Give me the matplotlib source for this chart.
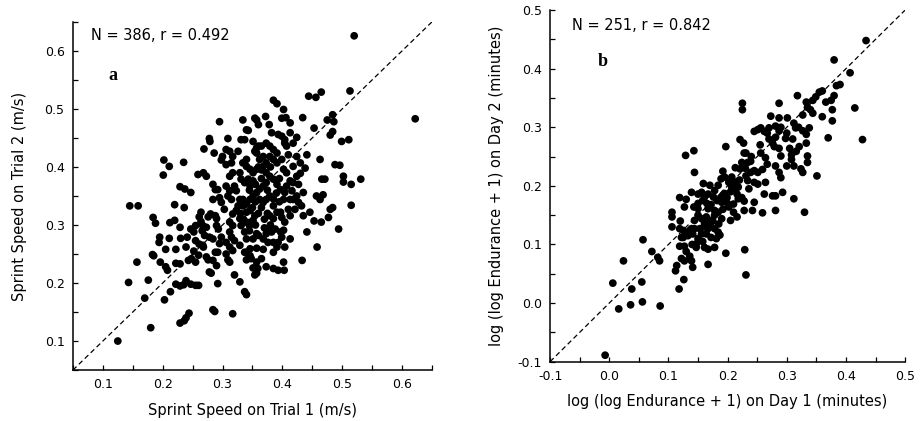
import matplotlib
matplotlib.use("Agg")
import matplotlib.pyplot as plt
from matplotlib.ticker import MultipleLocator

# (trial 1, trial 2) sprint speeds, m/s
sprint_points = [
    (0.520, 0.626), (0.622, 0.483), (0.125, 0.100), (0.180, 0.123), (0.143, 0.201),
    (0.170, 0.174), (0.176, 0.205), (0.145, 0.333), (0.159, 0.333), (0.157, 0.236),
    (0.184, 0.313), (0.188, 0.303), (0.183, 0.249), (0.185, 0.247), (0.195, 0.279),
    (0.194, 0.270), (0.196, 0.236), (0.202, 0.412), (0.201, 0.386), (0.211, 0.401),
    (0.212, 0.304), (0.211, 0.277), (0.205, 0.258), (0.205, 0.228), (0.208, 0.222),
    (0.203, 0.171), (0.213, 0.185), (0.220, 0.335), (0.222, 0.258), (0.222, 0.234),
    (0.229, 0.233), (0.222, 0.198), (0.229, 0.195), (0.235, 0.197), (0.229, 0.366),
    (0.237, 0.362), (0.247, 0.356), (0.235, 0.408), (0.236, 0.330), (0.230, 0.277),
    (0.229, 0.131), (0.236, 0.135), (0.239, 0.140), (0.244, 0.148), (0.239, 0.204),
    (0.247, 0.198), (0.255, 0.196), (0.243, 0.239), (0.248, 0.242), (0.260, 0.196),
    (0.252, 0.255), (0.260, 0.248), (0.255, 0.236), (0.259, 0.387), (0.268, 0.390),
    (0.269, 0.431), (0.261, 0.314), (0.264, 0.306), (0.267, 0.299), (0.266, 0.290),
    (0.270, 0.282), (0.268, 0.262), (0.278, 0.449), (0.279, 0.444), (0.273, 0.384),
    (0.276, 0.314), (0.280, 0.319), (0.278, 0.279), (0.284, 0.276), (0.281, 0.217),
    (0.278, 0.219), (0.284, 0.154), (0.287, 0.151), (0.292, 0.199), (0.290, 0.230),
    (0.288, 0.253), (0.295, 0.478), (0.286, 0.424), (0.284, 0.370), (0.288, 0.361),
    (0.284, 0.344), (0.288, 0.316), (0.290, 0.311), (0.293, 0.293), (0.298, 0.412),
    (0.300, 0.418), (0.309, 0.449), (0.306, 0.430), (0.312, 0.427), (0.306, 0.404),
    (0.315, 0.407), (0.312, 0.384), (0.317, 0.390), (0.306, 0.367), (0.312, 0.359),
    (0.303, 0.327), (0.309, 0.350), (0.315, 0.344), (0.317, 0.319), (0.312, 0.305),
    (0.317, 0.299), (0.312, 0.288), (0.306, 0.270), (0.312, 0.262), (0.317, 0.256),
    (0.309, 0.240), (0.312, 0.236), (0.317, 0.147), (0.320, 0.214), (0.329, 0.202),
    (0.337, 0.185), (0.340, 0.180), (0.334, 0.481), (0.337, 0.447), (0.340, 0.464),
    (0.343, 0.463), (0.354, 0.484), (0.357, 0.481), (0.360, 0.473), (0.372, 0.487),
    (0.378, 0.473), (0.385, 0.515), (0.391, 0.509), (0.402, 0.499), (0.399, 0.484),
    (0.406, 0.485), (0.413, 0.476), (0.382, 0.459), (0.393, 0.456), (0.399, 0.453),
    (0.404, 0.447), (0.413, 0.459), (0.424, 0.451), (0.418, 0.441), (0.434, 0.485),
    (0.444, 0.522), (0.456, 0.520), (0.465, 0.529), (0.453, 0.467), (0.475, 0.481),
    (0.484, 0.490), (0.486, 0.478), (0.480, 0.455), (0.484, 0.461), (0.513, 0.531),
    (0.499, 0.444), (0.511, 0.447), (0.488, 0.404), (0.496, 0.403), (0.502, 0.384),
    (0.502, 0.374), (0.515, 0.370), (0.531, 0.379), (0.515, 0.334), (0.494, 0.293),
    (0.480, 0.327), (0.484, 0.330), (0.477, 0.313), (0.466, 0.379), (0.471, 0.379),
    (0.463, 0.413), (0.457, 0.350), (0.463, 0.344), (0.468, 0.352), (0.453, 0.307),
    (0.465, 0.305), (0.458, 0.262), (0.446, 0.322), (0.432, 0.333), (0.435, 0.316),
    (0.435, 0.356), (0.441, 0.288), (0.433, 0.239), (0.430, 0.389), (0.438, 0.398),
    (0.441, 0.421), (0.424, 0.418), (0.430, 0.407), (0.413, 0.376), (0.418, 0.373),
    (0.413, 0.344), (0.410, 0.327), (0.413, 0.276), (0.404, 0.262), (0.402, 0.236),
    (0.403, 0.222), (0.393, 0.222), (0.385, 0.225), (0.373, 0.228), (0.365, 0.242),
    (0.359, 0.225), (0.351, 0.226), (0.354, 0.214), (0.357, 0.217), (0.348, 0.242),
    (0.340, 0.253), (0.346, 0.259), (0.357, 0.260), (0.368, 0.258), (0.385, 0.253),
    (0.391, 0.262), (0.382, 0.288), (0.388, 0.293), (0.397, 0.288), (0.402, 0.291),
    (0.373, 0.285), (0.376, 0.293), (0.357, 0.285), (0.360, 0.282), (0.368, 0.276),
    (0.345, 0.299), (0.340, 0.305), (0.348, 0.305), (0.351, 0.308), (0.354, 0.316),
    (0.340, 0.322), (0.346, 0.325), (0.334, 0.333), (0.340, 0.336), (0.329, 0.344),
    (0.334, 0.344), (0.346, 0.344), (0.351, 0.350), (0.357, 0.356), (0.362, 0.362),
    (0.368, 0.367), (0.373, 0.373), (0.362, 0.344), (0.368, 0.339), (0.373, 0.344),
    (0.379, 0.350), (0.385, 0.333), (0.391, 0.322), (0.379, 0.316), (0.385, 0.311),
    (0.397, 0.322), (0.399, 0.313), (0.402, 0.344), (0.404, 0.356), (0.397, 0.361),
    (0.391, 0.370), (0.385, 0.379), (0.379, 0.384), (0.373, 0.390), (0.368, 0.401),
    (0.362, 0.413), (0.357, 0.424), (0.360, 0.436), (0.357, 0.433), (0.354, 0.427),
    (0.368, 0.418), (0.373, 0.407), (0.379, 0.418), (0.385, 0.413), (0.391, 0.407),
    (0.399, 0.413), (0.402, 0.396), (0.407, 0.390), (0.340, 0.401), (0.346, 0.396),
    (0.334, 0.407), (0.340, 0.413), (0.329, 0.390), (0.331, 0.379), (0.337, 0.373),
    (0.343, 0.379), (0.346, 0.367), (0.351, 0.376), (0.351, 0.390), (0.357, 0.396),
    (0.320, 0.367), (0.323, 0.359), (0.326, 0.333), (0.323, 0.325), (0.329, 0.311),
    (0.331, 0.299), (0.337, 0.288), (0.340, 0.276), (0.329, 0.265), (0.337, 0.253),
    (0.351, 0.276), (0.376, 0.270), (0.385, 0.270), (0.393, 0.270), (0.399, 0.279),
    (0.346, 0.247), (0.357, 0.236), (0.340, 0.240), (0.404, 0.441), (0.407, 0.436),
    (0.373, 0.441), (0.379, 0.436), (0.385, 0.430), (0.391, 0.424), (0.410, 0.421),
    (0.317, 0.418), (0.326, 0.427), (0.331, 0.447), (0.351, 0.444), (0.365, 0.436),
    (0.418, 0.401), (0.424, 0.384), (0.427, 0.370), (0.407, 0.367), (0.416, 0.359),
    (0.424, 0.350), (0.427, 0.339), (0.413, 0.316), (0.421, 0.327), (0.404, 0.305),
    (0.418, 0.344), (0.295, 0.347), (0.298, 0.339), (0.292, 0.361), (0.298, 0.279),
    (0.295, 0.268), (0.306, 0.250), (0.315, 0.279), (0.320, 0.273), (0.292, 0.253),
    (0.284, 0.239), (0.273, 0.245), (0.276, 0.240), (0.267, 0.265), (0.255, 0.273),
    (0.261, 0.267), (0.252, 0.288), (0.247, 0.293), (0.255, 0.299), (0.264, 0.322),
    (0.273, 0.296), (0.290, 0.299), (0.239, 0.262), (0.241, 0.279), (0.229, 0.296),
    (0.220, 0.308), (0.350, 0.330), (0.355, 0.340), (0.360, 0.320), (0.365, 0.330),
    (0.370, 0.310), (0.375, 0.320), (0.380, 0.300), (0.345, 0.360), (0.355, 0.370),
    (0.365, 0.380), (0.375, 0.360), (0.385, 0.345), (0.390, 0.355), (0.395, 0.340),
    (0.360, 0.400), (0.365, 0.395), (0.330, 0.320), (0.335, 0.310), (0.345, 0.290),
    (0.355, 0.300), (0.370, 0.295), (0.380, 0.400), (0.395, 0.380),
]

# (day 1, day 2) log(log endurance + 1), minutes
endurance_points = [
    (0.434, 0.448), (0.380, 0.415), (0.407, 0.393), (0.390, 0.373), (0.384, 0.371),
    (0.415, 0.333), (0.428, 0.279), (0.370, 0.282), (0.351, 0.217), (0.330, 0.155),
    (0.312, 0.178), (0.377, 0.330), (0.377, 0.311), (0.360, 0.318), (0.366, 0.343),
    (0.375, 0.346), (0.380, 0.354), (0.355, 0.360), (0.360, 0.362), (0.349, 0.352),
    (0.344, 0.346), (0.333, 0.343), (0.335, 0.334), (0.318, 0.354), (0.344, 0.324),
    (0.338, 0.299), (0.333, 0.288), (0.327, 0.294), (0.312, 0.307), (0.315, 0.299),
    (0.301, 0.316), (0.327, 0.321), (0.333, 0.273), (0.321, 0.267), (0.316, 0.259),
    (0.305, 0.264), (0.308, 0.253), (0.335, 0.251), (0.335, 0.240), (0.324, 0.229),
    (0.327, 0.223), (0.308, 0.245), (0.312, 0.234), (0.300, 0.234), (0.287, 0.316),
    (0.287, 0.341), (0.273, 0.319), (0.281, 0.302), (0.298, 0.281), (0.287, 0.294),
    (0.281, 0.283), (0.276, 0.273), (0.279, 0.267), (0.287, 0.264), (0.290, 0.251),
    (0.270, 0.299), (0.267, 0.290), (0.256, 0.299), (0.262, 0.293), (0.245, 0.293),
    (0.251, 0.296), (0.264, 0.248), (0.267, 0.237), (0.256, 0.256), (0.259, 0.228),
    (0.251, 0.223), (0.281, 0.234), (0.287, 0.223), (0.290, 0.214), (0.293, 0.189),
    (0.281, 0.183), (0.276, 0.183), (0.281, 0.158), (0.259, 0.154), (0.262, 0.186),
    (0.264, 0.206), (0.245, 0.206), (0.251, 0.203), (0.234, 0.240), (0.239, 0.242),
    (0.231, 0.256), (0.221, 0.279), (0.227, 0.273), (0.225, 0.341), (0.225, 0.330),
    (0.197, 0.267), (0.224, 0.240), (0.221, 0.229), (0.231, 0.217), (0.234, 0.209),
    (0.245, 0.172), (0.242, 0.158), (0.228, 0.158), (0.224, 0.180), (0.228, 0.174),
    (0.218, 0.198), (0.213, 0.192), (0.207, 0.198), (0.202, 0.206), (0.189, 0.212),
    (0.195, 0.215), (0.184, 0.201), (0.178, 0.192), (0.207, 0.215), (0.213, 0.206),
    (0.216, 0.186), (0.218, 0.178), (0.210, 0.169), (0.202, 0.164), (0.210, 0.155),
    (0.216, 0.147), (0.205, 0.141), (0.199, 0.180), (0.190, 0.172), (0.195, 0.187),
    (0.190, 0.182), (0.176, 0.181), (0.182, 0.175), (0.167, 0.186), (0.161, 0.181),
    (0.170, 0.201), (0.159, 0.204), (0.150, 0.186), (0.156, 0.189), (0.144, 0.223),
    (0.139, 0.189), (0.150, 0.161), (0.167, 0.161), (0.178, 0.158), (0.184, 0.155),
    (0.190, 0.144), (0.178, 0.150), (0.172, 0.141), (0.164, 0.147), (0.170, 0.133),
    (0.156, 0.144), (0.161, 0.136), (0.150, 0.150), (0.144, 0.141), (0.139, 0.127),
    (0.144, 0.127), (0.153, 0.127), (0.156, 0.118), (0.164, 0.118), (0.167, 0.127),
    (0.178, 0.127), (0.184, 0.121), (0.172, 0.112), (0.181, 0.110), (0.187, 0.116),
    (0.178, 0.095), (0.167, 0.092), (0.161, 0.095), (0.147, 0.095), (0.147, 0.101),
    (0.136, 0.124), (0.141, 0.118), (0.133, 0.115), (0.125, 0.124), (0.125, 0.112),
    (0.119, 0.127), (0.122, 0.112), (0.127, 0.097), (0.130, 0.088), (0.136, 0.080),
    (0.139, 0.072), (0.141, 0.061), (0.127, 0.072), (0.122, 0.076), (0.119, 0.097),
    (0.114, 0.064), (0.112, 0.055), (0.126, 0.040), (0.118, 0.024), (0.167, 0.066),
    (0.197, 0.085), (0.229, 0.091), (0.231, 0.048), (0.106, 0.147), (0.106, 0.155),
    (0.106, 0.130), (0.119, 0.180), (0.130, 0.177), (0.127, 0.164), (0.143, 0.164),
    (0.129, 0.252), (0.143, 0.260), (0.057, 0.108), (0.072, 0.088), (0.082, 0.078),
    (0.085, 0.072), (0.024, 0.072), (0.006, 0.034), (0.038, 0.024), (0.055, 0.036),
    (0.016, -0.010), (0.036, -0.003), (0.056, 0.002), (0.086, -0.005), (-0.007, -0.089),
    (0.213, 0.231), (0.192, 0.225), (0.228, 0.256), (0.239, 0.223), (0.245, 0.226),
    (0.236, 0.195), (0.150, 0.170), (0.158, 0.175), (0.165, 0.170), (0.172, 0.168),
    (0.160, 0.130), (0.168, 0.135), (0.175, 0.140), (0.150, 0.110), (0.158, 0.105),
    (0.185, 0.135), (0.192, 0.160), (0.200, 0.170), (0.205, 0.190), (0.210, 0.200),
    (0.220, 0.210), (0.230, 0.230), (0.240, 0.250), (0.255, 0.270), (0.270, 0.280),
    (0.290, 0.300), (0.300, 0.290), (0.310, 0.280), (0.320, 0.300), (0.340, 0.330),
    (0.140, 0.100), (0.120, 0.140),
]

panels = [
    {
        "points": sprint_points,
        "rect": [0.079, 0.121, 0.389, 0.827],
        "lim": (0.05, 0.65),
        "xlabel": "Sprint Speed on Trial 1 (m/s)",
        "ylabel": "Sprint Speed on Trial 2 (m/s)",
        "ylabelpad": 13,
        "stat": "N = 386, r = 0.492",
        "stat_xy": (0.0805, 0.627),
        "letter": "a",
        "letter_xy": (0.1096, 0.558),
    },
    {
        "points": endurance_points,
        "rect": [0.596, 0.141, 0.3846, 0.835],
        "lim": (-0.1, 0.5),
        "xlabel": "log (log Endurance + 1) on Day 1 (minutes)",
        "ylabel": "log (log Endurance + 1) on Day 2 (minutes)",
        "ylabelpad": 10,
        "stat": "N = 251, r = 0.842",
        "stat_xy": (-0.063, 0.474),
        "letter": "b",
        "letter_xy": (-0.019, 0.412),
    },
]

fig = plt.figure(figsize=(9.23, 4.21), dpi=100, facecolor="white")

for p in panels:
    ax = fig.add_axes(p["rect"])
    lo, hi = p["lim"]
    xs = [pt[0] for pt in p["points"]]
    ys = [pt[1] for pt in p["points"]]

    # 1:1 line
    ax.plot([lo, hi], [lo, hi], color="black", linewidth=0.9,
            dashes=(4, 2.6), zorder=2)
    ax.scatter(xs, ys, s=31, color="black", edgecolors="none", zorder=3)

    ax.set_xlim(lo, hi)
    ax.set_ylim(lo, hi)
    for side in ("top", "right"):
        ax.spines[side].set_visible(False)
    for side in ("left", "bottom"):
        ax.spines[side].set_linewidth(1.1)

    for axis in (ax.xaxis, ax.yaxis):
        axis.set_major_locator(MultipleLocator(0.1))
        axis.set_minor_locator(MultipleLocator(0.05))
        axis.set_major_formatter(plt.FuncFormatter(lambda v, _: f"{v:.1f}"))
    ax.tick_params(which="both", direction="in", length=3.5, width=0.9,
                   labelsize=9, pad=6)

    ax.set_xlabel(p["xlabel"], fontsize=10.5, labelpad=8)
    ax.set_ylabel(p["ylabel"], fontsize=10.5, labelpad=p["ylabelpad"])

    ax.text(*p["stat_xy"], p["stat"], fontsize=10.5, va="center", ha="left")
    ax.text(*p["letter_xy"], p["letter"], fontsize=13, fontweight="bold",
            family="Liberation Serif", va="center", ha="left")

fig.savefig("out.png", dpi=100, facecolor="white")
